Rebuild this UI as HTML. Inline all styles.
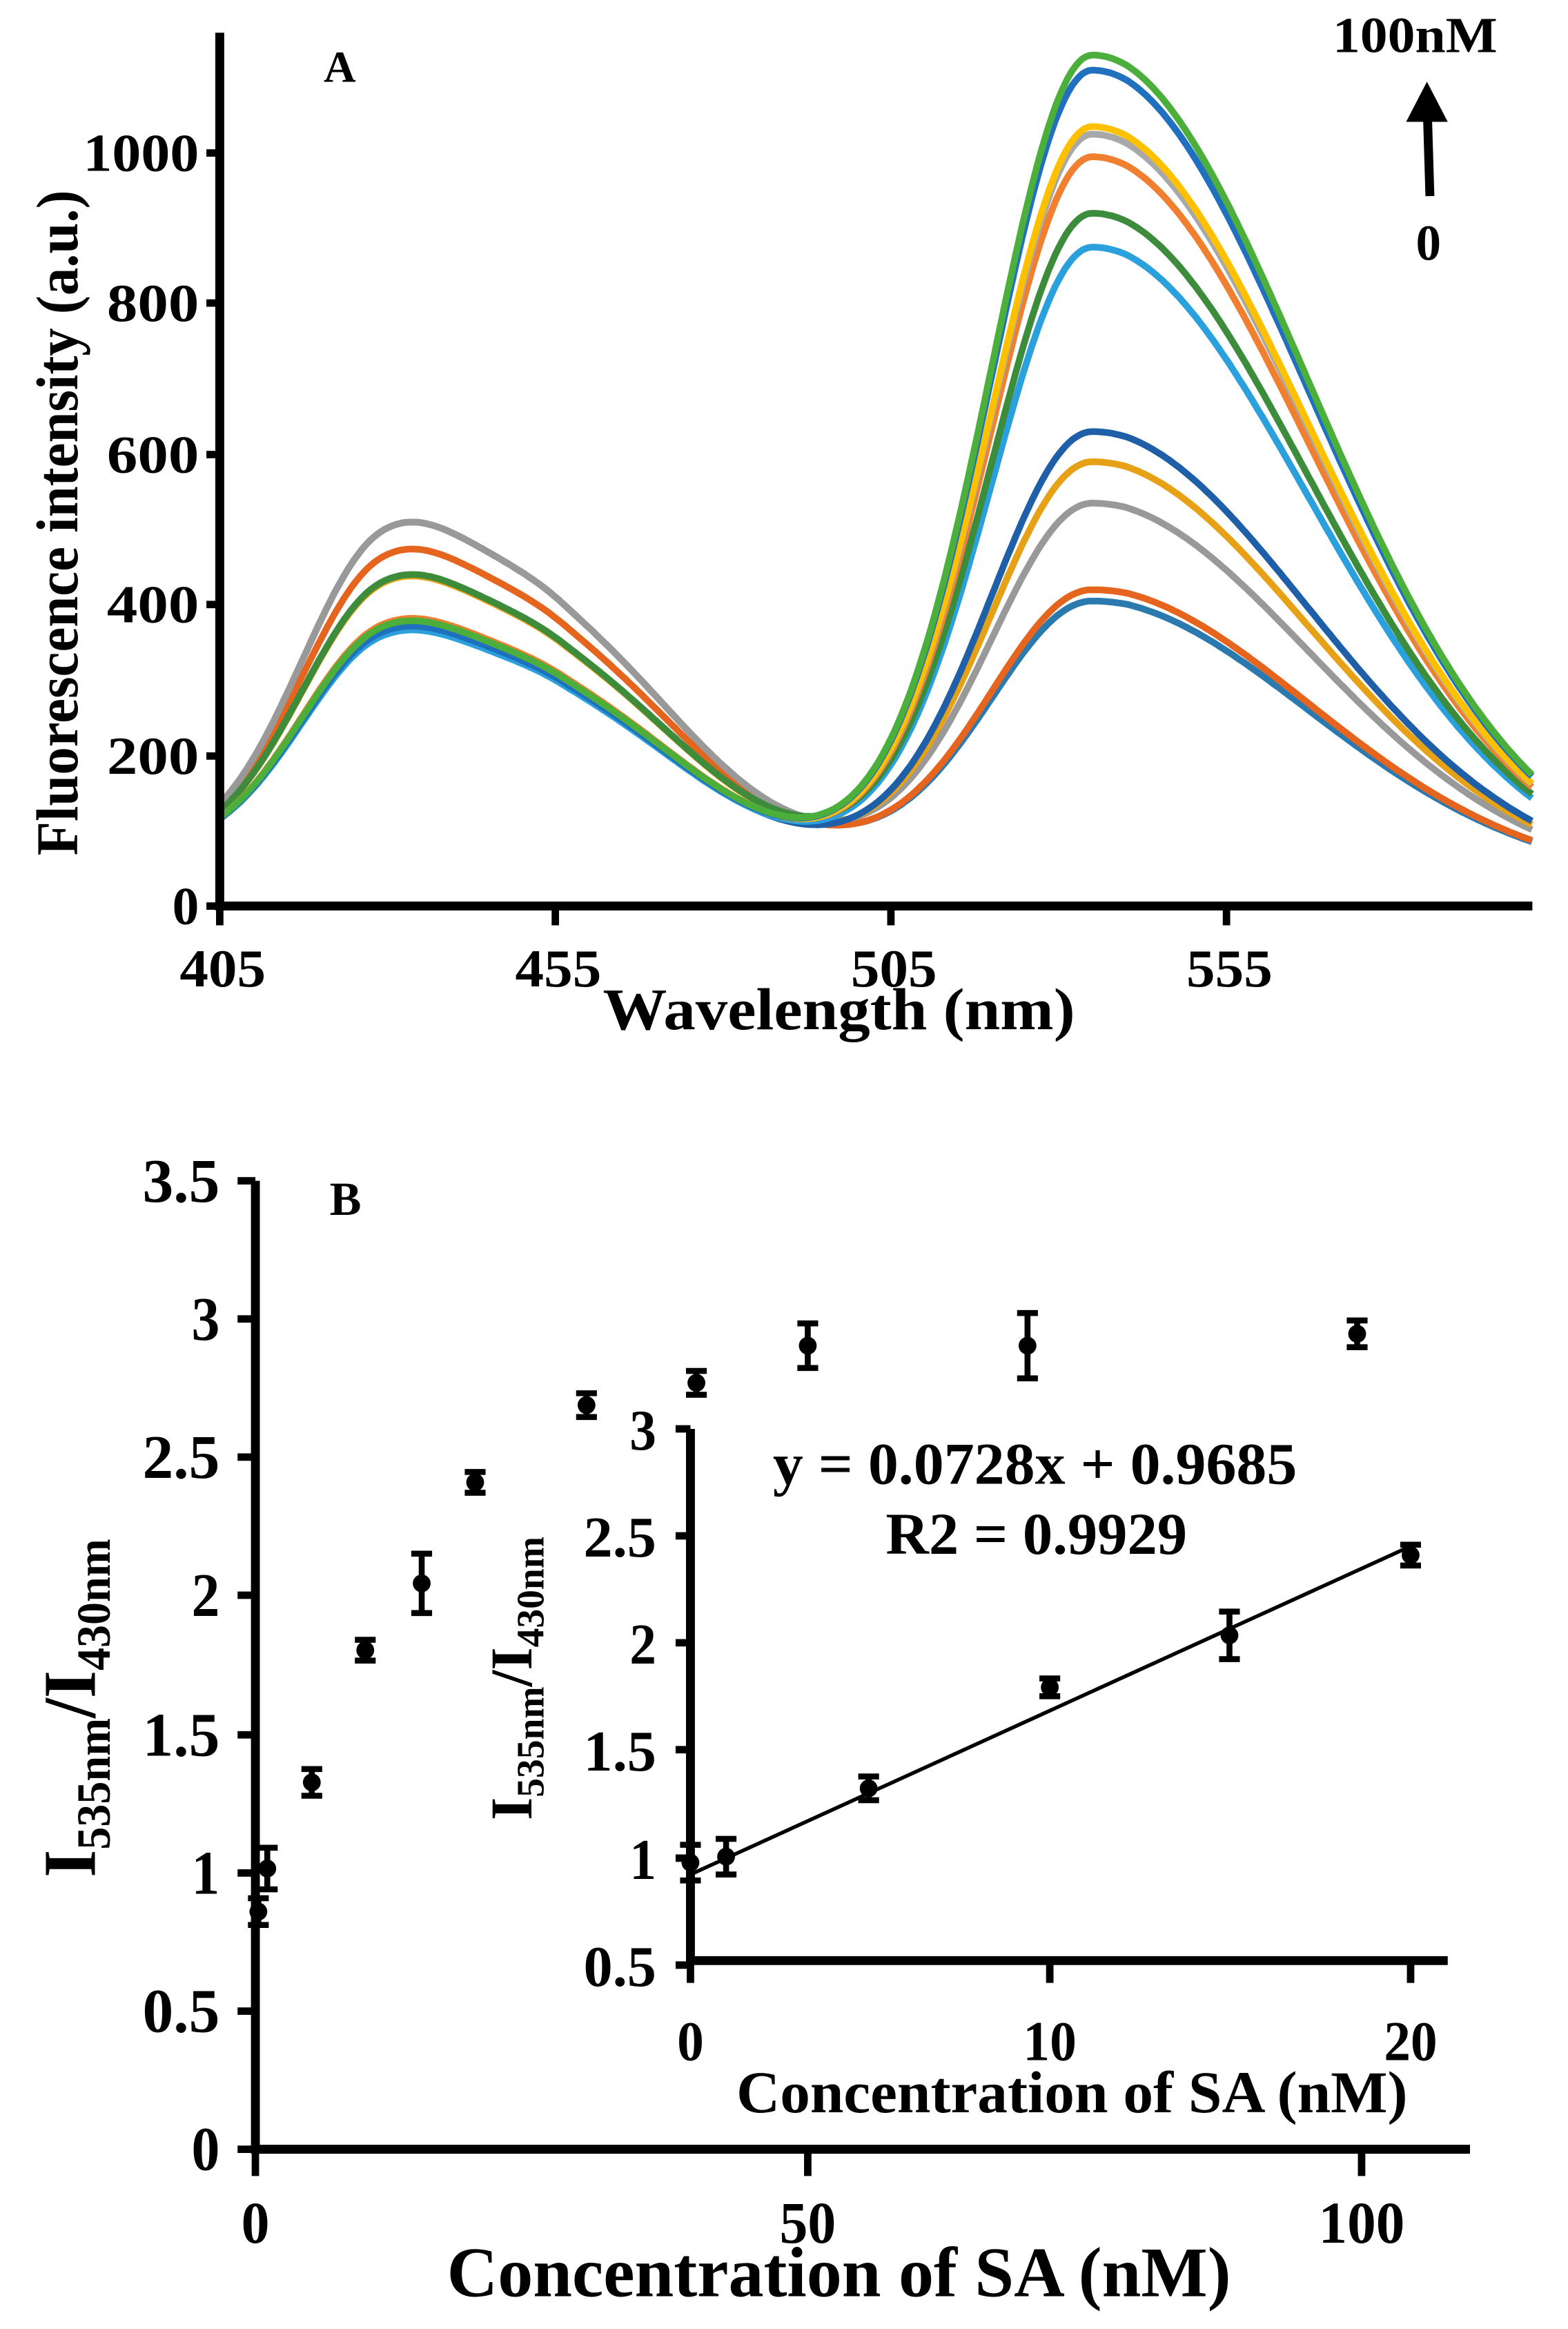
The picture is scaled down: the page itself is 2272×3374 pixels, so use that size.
<!DOCTYPE html>
<html><head><meta charset="utf-8"><style>
html,body{margin:0;padding:0;background:#fff;}
svg{display:block;}
text{font-family:"Liberation Serif",serif;font-weight:bold;fill:#000;}
</style></head><body>
<svg id="s" width="2272" height="3374" viewBox="0 0 1056 1568" preserveAspectRatio="none" xmlns="http://www.w3.org/2000/svg">
<rect width="1056" height="1568" fill="#fff"/>
<g id="curves"></g>
<!-- Panel A axes -->
<g stroke="#000" stroke-width="6" fill="none">
<line x1="148" y1="22" x2="148" y2="613"/>
<line x1="146" y1="610" x2="1032" y2="610"/>
</g>
<g stroke="#000" stroke-width="5">
<line x1="139" y1="610" x2="148" y2="610"/><line x1="139" y1="509" x2="148" y2="509"/>
<line x1="139" y1="407" x2="148" y2="407"/><line x1="139" y1="306" x2="148" y2="306"/>
<line x1="139" y1="204" x2="148" y2="204"/><line x1="139" y1="103" x2="148" y2="103"/>
<line x1="148" y1="610" x2="148" y2="623"/><line x1="374" y1="610" x2="374" y2="623"/>
<line x1="600" y1="610" x2="600" y2="623"/><line x1="826" y1="610" x2="826" y2="623"/>
</g>
<g font-size="36" text-anchor="end">
<text x="134" y="622">0</text><text x="134" y="521" textLength="62" lengthAdjust="spacingAndGlyphs">200</text><text x="134" y="419" textLength="62" lengthAdjust="spacingAndGlyphs">400</text>
<text x="134" y="318" textLength="62" lengthAdjust="spacingAndGlyphs">600</text><text x="134" y="216" textLength="62" lengthAdjust="spacingAndGlyphs">800</text><text x="134" y="115" textLength="78" lengthAdjust="spacingAndGlyphs">1000</text>
</g>
<g font-size="36" text-anchor="middle">
<text x="150" y="664" textLength="58" lengthAdjust="spacingAndGlyphs">405</text><text x="376" y="664" textLength="58" lengthAdjust="spacingAndGlyphs">455</text><text x="602" y="664" textLength="58" lengthAdjust="spacingAndGlyphs">505</text><text x="828" y="664" textLength="58" lengthAdjust="spacingAndGlyphs">555</text>
</g>
<text x="565" y="693" font-size="40" text-anchor="middle" textLength="318" lengthAdjust="spacingAndGlyphs">Wavelength (nm)</text>
<text transform="translate(52,352) rotate(-90)" font-size="40" text-anchor="middle" textLength="448" lengthAdjust="spacingAndGlyphs">Fluorescence intensity (a.u.)</text>
<text x="218" y="55" font-size="30">A</text>
<text x="953" y="35" font-size="34" text-anchor="middle" textLength="111" lengthAdjust="spacingAndGlyphs">100nM</text>
<text x="962" y="175" font-size="34" text-anchor="middle">0</text>
<g stroke="#000" stroke-width="6" fill="none"><line x1="963" y1="132" x2="961" y2="66"/></g>
<polygon points="961,55 947,82 975,82" fill="#000"/>

<!-- Panel B -->
<g stroke="#000" stroke-width="6" fill="none">
<line x1="172" y1="795" x2="172" y2="1450"/>
<line x1="170" y1="1447" x2="990" y2="1447"/>
</g>
<g stroke="#000" stroke-width="5">
<line x1="160" y1="1447" x2="172" y2="1447"/><line x1="160" y1="1354" x2="172" y2="1354"/>
<line x1="160" y1="1261" x2="172" y2="1261"/><line x1="160" y1="1168" x2="172" y2="1168"/>
<line x1="160" y1="1074" x2="172" y2="1074"/><line x1="160" y1="981" x2="172" y2="981"/>
<line x1="160" y1="888" x2="172" y2="888"/><line x1="160" y1="795" x2="172" y2="795"/>
<line x1="172" y1="1447" x2="172" y2="1465"/><line x1="544" y1="1447" x2="544" y2="1465"/><line x1="917" y1="1447" x2="917" y2="1465"/>
</g>
<g font-size="42" text-anchor="end">
<text x="148" y="1461" textLength="19" lengthAdjust="spacingAndGlyphs">0</text><text x="148" y="1368" textLength="52" lengthAdjust="spacingAndGlyphs">0.5</text><text x="148" y="1275" textLength="19" lengthAdjust="spacingAndGlyphs">1</text>
<text x="148" y="1182" textLength="52" lengthAdjust="spacingAndGlyphs">1.5</text><text x="148" y="1088" textLength="19" lengthAdjust="spacingAndGlyphs">2</text><text x="148" y="995" textLength="52" lengthAdjust="spacingAndGlyphs">2.5</text>
<text x="148" y="902" textLength="19" lengthAdjust="spacingAndGlyphs">3</text><text x="148" y="809" textLength="52" lengthAdjust="spacingAndGlyphs">3.5</text>
</g>
<g font-size="40" text-anchor="middle">
<text x="172" y="1510" textLength="19" lengthAdjust="spacingAndGlyphs">0</text><text x="544" y="1510" textLength="38" lengthAdjust="spacingAndGlyphs">50</text><text x="917" y="1510" textLength="58" lengthAdjust="spacingAndGlyphs">100</text>
</g>
<text x="565" y="1546" font-size="48" text-anchor="middle" textLength="528" lengthAdjust="spacingAndGlyphs">Concentration of SA (nM)</text>
<text transform="translate(64,1150) rotate(-90)" font-size="50" text-anchor="middle" textLength="228" lengthAdjust="spacingAndGlyphs">I<tspan font-size="32" dy="10">535nm</tspan><tspan dy="-10">/I</tspan><tspan font-size="32" dy="10">430nm</tspan></text>
<text x="222" y="818" font-size="32">B</text>
<g id="mainpts"></g>

<!-- Inset -->
<g stroke="#000" stroke-width="6" fill="none">
<line x1="465" y1="962" x2="465" y2="1323"/>
<line x1="463" y1="1320" x2="975" y2="1320"/>
</g>
<g stroke="#000" stroke-width="5">
<line x1="455" y1="962" x2="465" y2="962"/><line x1="455" y1="1034" x2="465" y2="1034"/>
<line x1="455" y1="1106" x2="465" y2="1106"/><line x1="455" y1="1178" x2="465" y2="1178"/>
<line x1="455" y1="1251" x2="465" y2="1251"/><line x1="455" y1="1323" x2="465" y2="1323"/>
<line x1="465" y1="1320" x2="465" y2="1335"/><line x1="707" y1="1320" x2="707" y2="1335"/><line x1="950" y1="1320" x2="950" y2="1335"/>
</g>
<g font-size="39" text-anchor="end">
<text x="442" y="976" textLength="18" lengthAdjust="spacingAndGlyphs">3</text><text x="442" y="1048" textLength="49" lengthAdjust="spacingAndGlyphs">2.5</text><text x="442" y="1120" textLength="18" lengthAdjust="spacingAndGlyphs">2</text>
<text x="442" y="1192" textLength="49" lengthAdjust="spacingAndGlyphs">1.5</text><text x="442" y="1265" textLength="18" lengthAdjust="spacingAndGlyphs">1</text><text x="442" y="1337" textLength="49" lengthAdjust="spacingAndGlyphs">0.5</text>
</g>
<g font-size="38" text-anchor="middle">
<text x="465" y="1387" textLength="18" lengthAdjust="spacingAndGlyphs">0</text><text x="707" y="1387" textLength="36" lengthAdjust="spacingAndGlyphs">10</text><text x="950" y="1387" textLength="36" lengthAdjust="spacingAndGlyphs">20</text>
</g>
<text x="722" y="1422" font-size="40" text-anchor="middle" textLength="452" lengthAdjust="spacingAndGlyphs">Concentration of SA (nM)</text>
<text transform="translate(358,1130) rotate(-90)" font-size="40" text-anchor="middle" textLength="191" lengthAdjust="spacingAndGlyphs">I<tspan font-size="26" dy="8">535nm</tspan><tspan dy="-8">/I</tspan><tspan font-size="26" dy="8">430nm</tspan></text>
<text x="697" y="999" font-size="40" text-anchor="middle" textLength="353" lengthAdjust="spacingAndGlyphs">y = 0.0728x + 0.9685</text>
<text x="698" y="1046" font-size="40" text-anchor="middle" textLength="203" lengthAdjust="spacingAndGlyphs">R2 = 0.9929</text>
<line x1="465" y1="1262" x2="950" y2="1041" stroke="#000" stroke-width="2.5"/>
<g id="insetpts"></g>
</svg>
<script>
var NS="http://www.w3.org/2000/svg";
function g(x,m,s){return Math.exp(-Math.pow((x-m)/s,2)/2);}
function ag(x,m,sl,sr){return g(x,m,x<m?sl:sr);}
var cs=[
["#2a7ab0",500,405],["#e5641e",465,420],["#999999",500,535],["#e6a117",430,590],
["#1f5fa8",365,630],["#2aa0dc",360,875],["#3c8c3c",432,920],["#f07f30",375,995],
["#a8a8a8",370,1025],["#ffc000",368,1035],["#2070c0",365,1110],["#4caf3c",372,1130]];
var cg=document.getElementById("curves");
cs.forEach(function(c){
 var base0=75;
 var A1=(c[1]-base0)/0.95,A2=c[2]-base0,d="";
 for(var x=405;x<=600.6;x+=0.5){
  var base=x<540?base0:base0-(x-540)*30/60;
  var v=base+A1*(0.85*ag(x,429,12.5,14)+0.6*ag(x,456,14,18))+A2*ag(x,535,15,32);
  var px=148+(x-405)*4.52,py=610-v*0.507;
  d+=(d?"L":"M")+px.toFixed(1)+","+py.toFixed(1);
 }
 var p=document.createElementNS(NS,"path");
 p.setAttribute("d",d);p.setAttribute("stroke",c[0]);p.setAttribute("stroke-width","4.5");p.setAttribute("fill","none");
 cg.appendChild(p);
});
function pts(id,arr){
 var gg=document.getElementById(id),h="";
 arr.forEach(function(a){
  var x=a[0],y=a[1],e=a[2];
  h+='<line x1="'+x+'" y1="'+(y-e)+'" x2="'+x+'" y2="'+(y+e)+'" stroke="#000" stroke-width="4"/>';
  h+='<line x1="'+(x-7)+'" y1="'+(y-e)+'" x2="'+(x+7)+'" y2="'+(y-e)+'" stroke="#000" stroke-width="4"/>';
  h+='<line x1="'+(x-7)+'" y1="'+(y+e)+'" x2="'+(x+7)+'" y2="'+(y+e)+'" stroke="#000" stroke-width="4"/>';
  h+='<circle cx="'+x+'" cy="'+y+'" r="6" fill="#000"/>';
 });
 gg.innerHTML=h;
}
pts("mainpts",[[174,1287,9],[180,1258,14],[210,1200,9],[246,1111,7],[284,1066,20],[320,998,7],[395,946,8],[469,931,8],[544,906,15],[692,906,22],[914,898,9]]);
pts("insetpts",[[465,1254,12],[489,1250,12],[585,1204,8],[707,1136,6],[828,1101,16],[950,1047,7]]);
</script>
</body></html>
